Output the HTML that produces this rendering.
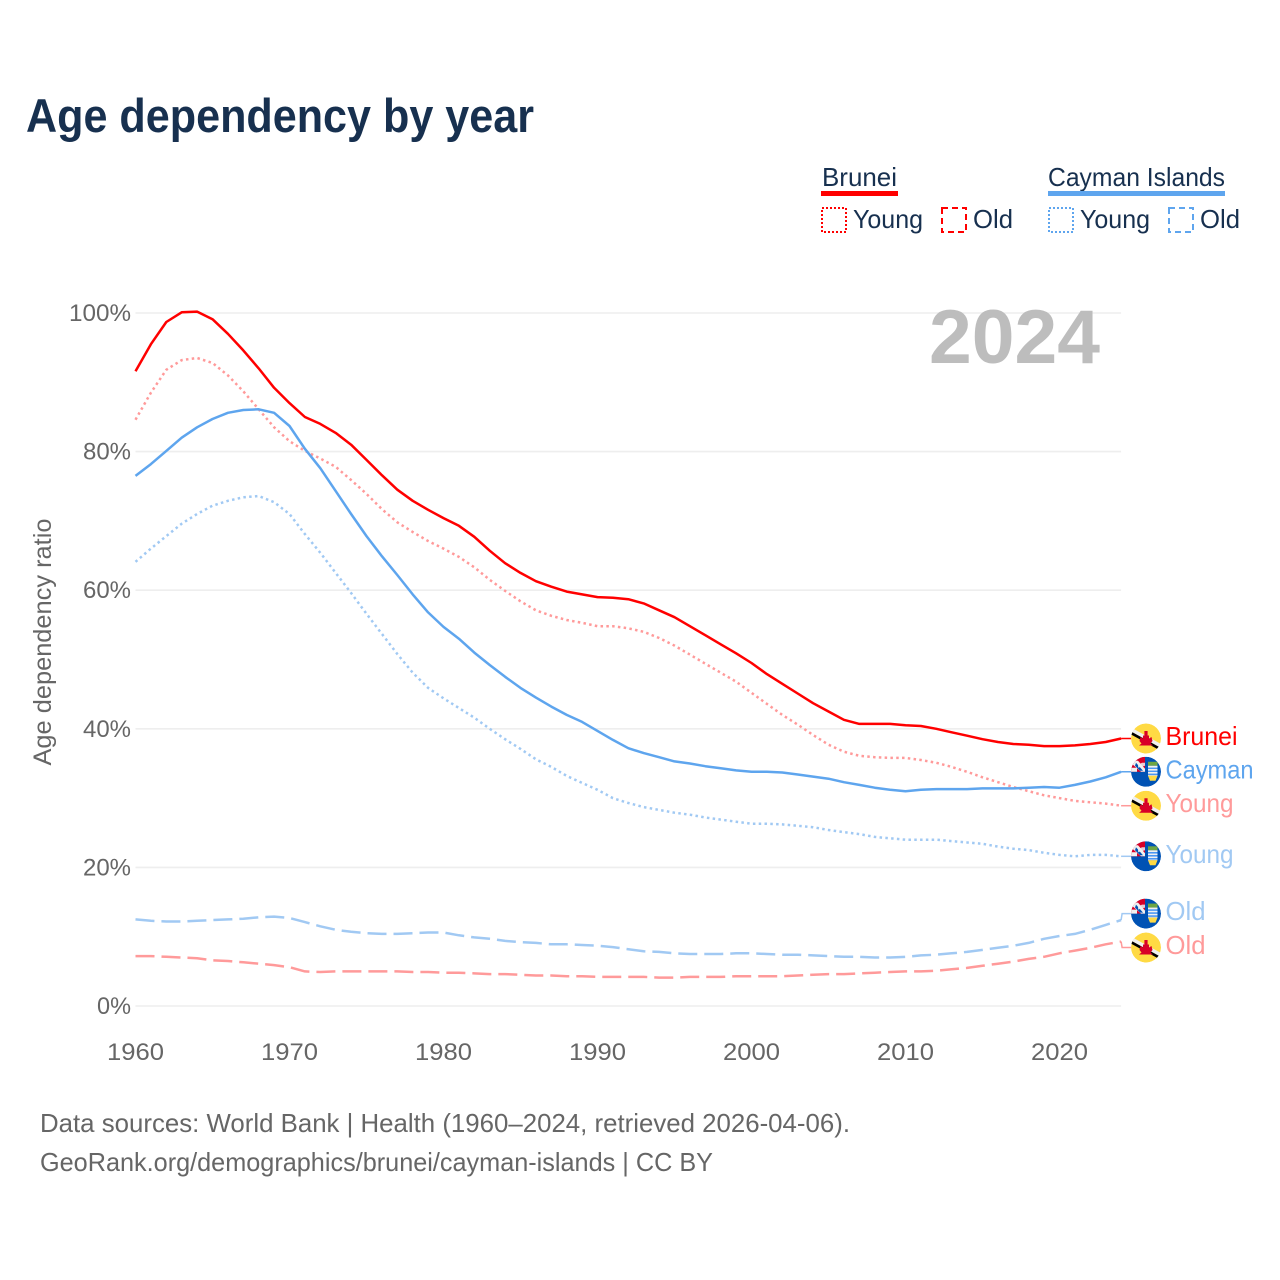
<!DOCTYPE html>
<html lang="en">
<head>
<meta charset="utf-8">
<title>Age dependency by year</title>
<style>
html,body{margin:0;padding:0;background:#fff;width:1280px;height:1280px;overflow:hidden}
svg{display:block}
text{font-family:"Liberation Sans",sans-serif}
</style>
</head>
<body>
<svg id="chart" xmlns="http://www.w3.org/2000/svg" width="1280" height="1280" viewBox="0 0 1280 1280">
<defs>
<clipPath id="flag-clip"><circle cx="0" cy="0" r="15"/></clipPath>
<g id="flag-brunei">
<g clip-path="url(#flag-clip)">
<circle r="15" fill="#ffda44"/>
<path d="M-16 -11.5 L16 6 L16 10 L-16 -7.5 Z" fill="#f0f0f0"/>
<path d="M-16 -7.5 L16 10 L16 13 L-16 -4.5 Z" fill="#000"/>
<path d="M-1.6 -7.5 L1.6 -7.5 L1.6 -3 L3 -3 L3 0 L5.5 -1.5 L6.5 2.5 L4.5 5 L7 7 L-7 7 L-4.5 5 L-6.5 2.5 L-5.5 -1.5 L-3 0 L-3 -3 L-1.6 -3 Z" fill="#d80027"/>
</g>
</g>
<g id="flag-cayman">
<g clip-path="url(#flag-clip)">
<circle r="15" fill="#0052b4"/>
<rect x="-15" y="-15" width="14" height="15" fill="#d80027"/>
<path d="M-13 -11 L-8 -11 L-1 -3 L-1 0 L-5 0 L-13 -7 Z" fill="#f0f0f0"/>
<path d="M-15 -4 L-9 -4 L-9 0 L-15 0 Z" fill="#f0f0f0"/>
<path d="M-10 -9 L-3 -1 L-6 -1 L-11 -6 Z" fill="#0052b4"/>
<path d="M-8 -4 L-8 -7 L-4 -9 L-1 -9 L-1 -6 Z" fill="#f0f0f0" opacity="0.85"/>
<rect x="2" y="-10" width="9.5" height="4" fill="#6da544"/>
<rect x="2" y="-6" width="9.5" height="10" fill="#f0f0f0"/>
<path d="M2 -3.5 H11.5 M2 -0.5 H11.5 M2 2.5 H11.5" stroke="#338af3" stroke-width="1.3"/>
<path d="M2 4 H11.5 L9.5 9 H4 Z" fill="#ffda44"/>
</g>
</g>
</defs>

<text x="26" y="132" font-size="47" font-weight="700" fill="#17304f" textLength="508" lengthAdjust="spacingAndGlyphs">Age dependency by year</text>

<g font-size="26" fill="#17304f">
  <g>
    <text x="822" y="186" textLength="75" lengthAdjust="spacingAndGlyphs">Brunei</text>
    <rect x="821" y="191" width="77" height="5" fill="#ff0000"/>
    <rect x="822" y="208" width="24" height="24" fill="none" stroke="#ff0000" stroke-width="2" stroke-dasharray="2 2"/>
    <text x="853" y="228" textLength="70" lengthAdjust="spacingAndGlyphs">Young</text>
    <rect x="942" y="208" width="24" height="24" fill="none" stroke="#ff0000" stroke-width="2" stroke-dasharray="6 4"/>
    <text x="973" y="228" textLength="40" lengthAdjust="spacingAndGlyphs">Old</text>
  </g>
  <g>
    <text x="1048" y="186" textLength="177" lengthAdjust="spacingAndGlyphs">Cayman Islands</text>
    <rect x="1048" y="191" width="177" height="5" fill="#5ea5ee"/>
    <rect x="1049" y="208" width="24" height="24" fill="none" stroke="#5ea5ee" stroke-width="2" stroke-dasharray="2 2"/>
    <text x="1080" y="228" textLength="70" lengthAdjust="spacingAndGlyphs">Young</text>
    <rect x="1169" y="208" width="24" height="24" fill="none" stroke="#5ea5ee" stroke-width="2" stroke-dasharray="6 4"/>
    <text x="1200" y="228" textLength="40" lengthAdjust="spacingAndGlyphs">Old</text>
  </g>
</g>

<g id="grid"></g>
<g id="y-ticks"></g>
<g id="x-ticks"></g>

<text transform="translate(51 642) rotate(-90)" text-anchor="middle" font-size="25" fill="#666" textLength="247" lengthAdjust="spacingAndGlyphs">Age dependency ratio</text>

<text x="929" y="363" font-size="76" font-weight="700" fill="#bdbdbd" textLength="171" lengthAdjust="spacingAndGlyphs">2024</text>

<g id="series"></g>
<g id="end-labels"></g>

<g font-size="26" fill="#666">
  <text x="40" y="1132" textLength="810" lengthAdjust="spacingAndGlyphs">Data sources: World Bank | Health (1960–2024, retrieved 2026-04-06).</text>
  <text x="40" y="1171" textLength="673" lengthAdjust="spacingAndGlyphs">GeoRank.org/demographics/brunei/cayman-islands | CC BY</text>
</g>
</svg>

<script>
const startYear = 1960;
const xTickYears = [1960, 1970, 1980, 1990, 2000, 2010, 2020];
const yTickValues = [0, 20, 40, 60, 80, 100];

const bruneiTotal = [91.6,95.5,98.7,100.1,100.2,99.1,97,94.6,92,89.2,87,85,84,82.7,81,78.8,76.6,74.5,72.9,71.6,70.4,69.3,67.7,65.7,63.9,62.5,61.3,60.5,59.8,59.4,59,58.9,58.7,58.1,57.1,56.1,54.8,53.5,52.2,50.9,49.5,47.9,46.5,45.1,43.7,42.5,41.3,40.7,40.7,40.7,40.5,40.4,40,39.5,39,38.5,38.1,37.8,37.7,37.5,37.5,37.6,37.8,38.1,38.6];
const bruneiYoung = [84.6,88.5,91.8,93.2,93.5,92.8,91,88.7,86.1,83.5,81.5,80.1,79,77.8,75.9,73.9,71.7,69.8,68.4,67.1,66,64.8,63.3,61.5,59.9,58.4,57.1,56.3,55.7,55.3,54.8,54.8,54.5,54,53.1,52,50.7,49.4,48.1,46.8,45.2,43.6,42,40.6,39.1,37.7,36.7,36.1,35.9,35.8,35.8,35.5,35.1,34.5,33.8,33,32.3,31.6,31,30.4,30,29.6,29.4,29.2,28.9];
const bruneiOld = [7.2,7.2,7.1,7,6.9,6.6,6.5,6.3,6.1,5.9,5.6,5,4.9,5,5,5,5,5,4.9,4.9,4.8,4.8,4.7,4.6,4.6,4.5,4.4,4.4,4.3,4.3,4.2,4.2,4.2,4.2,4.1,4.1,4.2,4.2,4.2,4.3,4.3,4.3,4.3,4.4,4.5,4.6,4.6,4.7,4.8,4.9,5,5,5.1,5.3,5.5,5.8,6.1,6.4,6.8,7.1,7.6,8,8.4,8.9,9.3];
const caymanTotal = [76.5,78.2,80.1,82,83.5,84.7,85.6,86,86.1,85.6,83.7,80.4,77.6,74.3,71,67.8,64.9,62.2,59.4,56.8,54.7,53,51,49.2,47.5,45.9,44.5,43.2,42,41,39.7,38.4,37.2,36.5,35.9,35.3,35,34.6,34.3,34,33.8,33.8,33.7,33.4,33.1,32.8,32.3,31.9,31.5,31.2,31,31.2,31.3,31.3,31.3,31.4,31.4,31.4,31.5,31.6,31.5,31.9,32.4,33,33.8];
const caymanYoung = [64.1,66,67.8,69.6,71,72.2,72.9,73.4,73.6,72.7,71,68.1,65.4,62.5,59.6,56.6,53.7,50.8,48.1,45.9,44.4,43,41.6,40,38.5,37.1,35.6,34.5,33.2,32.2,31.2,30,29.3,28.7,28.3,27.9,27.6,27.2,26.9,26.6,26.3,26.3,26.2,26,25.8,25.4,25.1,24.8,24.4,24.2,24,24,24,23.8,23.6,23.4,23,22.7,22.5,22.1,21.8,21.6,21.8,21.8,21.6];
const caymanOld = [12.5,12.3,12.2,12.2,12.3,12.4,12.5,12.6,12.8,12.9,12.7,12.1,11.5,11,10.7,10.5,10.4,10.4,10.5,10.6,10.6,10.2,9.9,9.7,9.4,9.2,9.1,8.9,8.9,8.8,8.7,8.5,8.2,7.9,7.8,7.6,7.5,7.5,7.5,7.6,7.6,7.5,7.4,7.4,7.3,7.2,7.1,7.1,7,7,7.1,7.3,7.4,7.6,7.8,8.1,8.4,8.7,9.1,9.7,10.1,10.4,11,11.7,12.4];

function xScale(year) { return 135.5 + (year - 1960) * 15.4; }
function yScale(value) { return 1006 - value * 6.93; }

const svgNS = 'http://www.w3.org/2000/svg';
function make(tag, parent, attrs) {
  const el = document.createElementNS(svgNS, tag);
  for (const k in attrs) el.setAttribute(k, attrs[k]);
  parent.appendChild(el);
  return el;
}

const gridG = document.getElementById('grid');
const yTickG = document.getElementById('y-ticks');
const xTickG = document.getElementById('x-ticks');
const seriesG = document.getElementById('series');
const labelsG = document.getElementById('end-labels');

yTickValues.forEach(function (v) {
  const line = make('line', gridG, {x1: xScale(1960), x2: xScale(2024), y1: yScale(v), y2: yScale(v), stroke: '#eeeeee', 'stroke-width': 1.6});
  
  
  const t = make('text', yTickG, {x: 131, y: yScale(v) + 8, 'text-anchor': 'end', 'font-size': 24, fill: '#666', textLength: v === 100 ? 62 : (v === 0 ? 34 : 48), lengthAdjust: 'spacingAndGlyphs'});
  t.textContent = v + '%';
  
  
});

xTickYears.forEach(function (yr) {
  const t = make('text', xTickG, {x: xScale(yr), y: 1060, 'text-anchor': 'middle', 'font-size': 24, fill: '#666', textLength: 57, lengthAdjust: 'spacingAndGlyphs'});
  t.textContent = yr;
  
  
});

const DOTTED = '2.5 3.3';
const DASHED = '19 7';

function drawSeries(key, values, color, dash, flag, labelText, labelWidth, labelShift) {
  const endX = xScale(startYear + values.length - 1);
  const endY = yScale(values[values.length - 1]);
  const labelY = endY + labelShift;

  const d = values.map(function (v, i) {
    return (i ? 'L' : 'M') + xScale(startYear + i).toFixed(1) + ' ' + yScale(v).toFixed(1);
  }).join(' ');
  const attrs = {d: d, fill: 'none', stroke: color, 'stroke-width': 2.5, 'stroke-linejoin': 'round'};
  if (dash) attrs['stroke-dasharray'] = dash;
  const line = make('path', seriesG, attrs);
  
  

  const conn = make('path', labelsG, {d: 'M' + endX + ' ' + endY + ' L' + (endX + 1) + ' ' + labelY + ' L1131 ' + labelY, fill: 'none', stroke: color, 'stroke-width': 1.5});
  
  

  const icon = make('use', labelsG, {href: '#flag-' + flag, transform: 'translate(1146 ' + labelY + ')'});
  
  

  const label = make('text', labelsG, {x: 1165.5, y: labelY + 6.5, 'font-size': 26, fill: color, textLength: labelWidth, lengthAdjust: 'spacingAndGlyphs'});
  label.textContent = labelText;
  
  
}

drawSeries('brunei-old', bruneiOld, '#ff9a9a', DASHED, 'brunei', 'Old', 40, 6);
drawSeries('cayman-old', caymanOld, '#a1c9f3', DASHED, 'cayman', 'Old', 40, -6.5);
drawSeries('brunei-young', bruneiYoung, '#ff9a9a', DOTTED, 'brunei', 'Young', 68, 0);
drawSeries('cayman-young', caymanYoung, '#a1c9f3', DOTTED, 'cayman', 'Young', 68, 0);
drawSeries('brunei-total', bruneiTotal, '#ff0000', '', 'brunei', 'Brunei', 72, 0);
drawSeries('cayman-total', caymanTotal, '#5ea5ee', '', 'cayman', 'Cayman', 88, 0);
</script>
</body>
</html>
